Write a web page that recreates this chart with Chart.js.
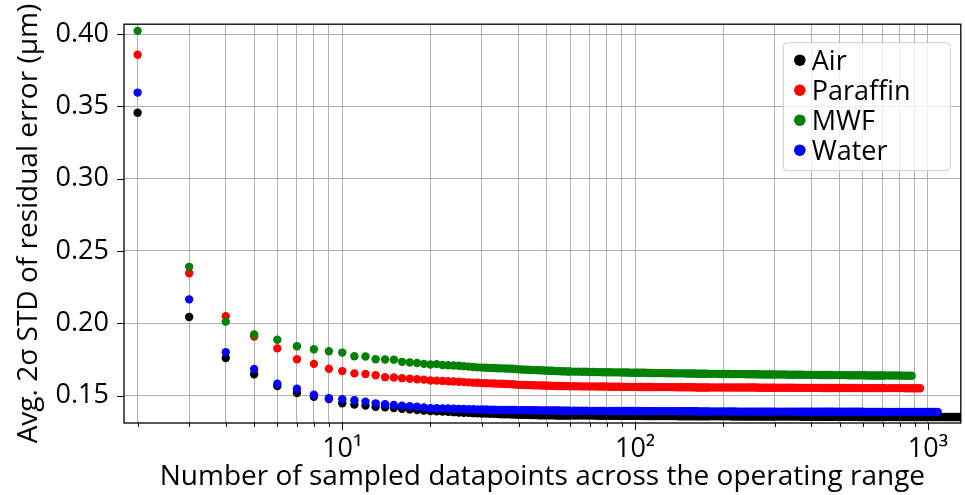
<!DOCTYPE html>
<html><head><meta charset="utf-8">
<script src="https://cdn.jsdelivr.net/npm/chart.js@4.4.0/dist/chart.umd.min.js"></script>
<style>html,body{margin:0;padding:0;background:#fff;overflow:hidden}canvas{display:block}</style>
</head><body>
<canvas id="c" width="965" height="495"></canvas>
<script>
// Number of sampled datapoints (x values where markers are read)
const sampleCounts = [
2,3,4,5,6,7,8,9,10,11,12,13,14,15,16,17,18,19,20,21,22,23,24,25,26,27,28,29,30,31,32,33,34,35,36,37,38,39,40,41,42,43,44,45,46,47,48,49,50,51,52,53,54,55,56,57,58,59,60,
62,64,66,68,70,72,74,76,78,80,82,84,86,88,90,92,94,96,98,100,102,104,106,108,110,112,114,116,118,120,
123,126,129,132,135,138,141,144,147,150,153,156,159,162,165,168,171,174,177,180,
185,190,195,200,205,210,215,220,225,230,235,240,245,250,255,260,265,270,275,280,285,290,295,300,
308,316,324,332,340,348,356,364,372,380,388,396,404,412,420,428,436,444,452,460,468,476,
488,500,512,524,536,548,560,572,584,596,608,620,632,644,656,668,680,692,704,716,
740,760,780,800,820,840,860,880,900,920,940,960,980,1000,1020,1040,1060,1080,1100,1120,1140,1160,1180,1200,1220,1240,1260,1280,1300
];

const airValues = [
0.3456,0.2043,0.1760,0.1647,0.1565,0.1517,0.1492,0.1476,0.1446,0.1437,0.1431,0.1422,0.1419,0.1413,
0.1408,0.1404,0.1400,0.1396,0.1393,0.1391,0.1389,0.1387,0.1385,0.1383,0.1381,0.1380,0.1378,0.1377,0.1376,
0.1375,0.1374,0.1373,0.1372,0.1371,0.1371,0.1370,0.1369,0.1368,0.1367,0.1367,0.1366,0.1366,0.1365,0.1365,
0.1365,0.1364,0.1364,0.1364,0.1363,0.1363,0.1363,0.1363,0.1362,0.1362,0.1362,0.1362,0.1362,0.1361,0.1361,
0.1361,0.1361,0.1361,0.1361,0.1361,0.1361,0.1360,0.1360,0.1360,0.1360,0.1360,0.1360,0.1360,0.1360,0.1359,0.1359,0.1359,0.1359,0.1359,0.1359,0.1359,0.1359,0.1358,0.1358,0.1358,0.1358,0.1358,0.1358,0.1358,0.1358,
0.1358,0.1358,0.1358,0.1358,0.1358,0.1358,0.1357,0.1357,0.1357,0.1357,0.1357,0.1357,0.1357,0.1357,0.1356,0.1356,0.1356,0.1356,0.1356,0.1356,
0.1356,0.1356,0.1356,0.1356,0.1356,0.1356,0.1355,0.1355,0.1355,0.1355,0.1355,0.1355,0.1355,0.1355,0.1355,0.1355,0.1354,0.1354,0.1354,0.1354,0.1354,0.1354,0.1354,0.1354,
0.1354,0.1354,0.1354,0.1354,0.1354,0.1354,0.1354,0.1354,0.1353,0.1353,0.1353,0.1353,0.1353,0.1353,0.1353,0.1353,0.1353,0.1353,0.1353,0.1353,0.1353,0.1353,
0.1353,0.1353,0.1353,0.1353,0.1353,0.1353,0.1353,0.1353,0.1352,0.1352,0.1352,0.1352,0.1352,0.1352,0.1352,0.1352,0.1352,0.1352,0.1352,0.1352,
0.1352,0.1352,0.1352,0.1352,0.1352,0.1352,0.1352,0.1352,0.1352,0.1352,0.1352,0.1352,0.1351,0.1351,0.1351,0.1351,0.1351,0.1351,0.1351,0.1351,0.1351,0.1351,0.1351,0.1351,0.1351,0.1351,0.1351,0.1351,0.1351
];

const paraffinValues = [
0.3857,0.2345,0.2049,0.1908,0.1826,0.1751,0.1719,0.1685,0.1669,0.1653,0.1649,0.1640,0.1627,0.1625,
0.1620,0.1616,0.1613,0.1610,0.1604,0.1603,0.1601,0.1599,0.1597,0.1595,0.1593,0.1591,0.1589,0.1588,0.1586,
0.1585,0.1584,0.1583,0.1582,0.1581,0.1580,0.1579,0.1578,0.1576,0.1574,0.1574,0.1573,0.1572,0.1572,0.1571,
0.1570,0.1570,0.1569,0.1569,0.1568,0.1568,0.1567,0.1567,0.1566,0.1566,0.1566,0.1565,0.1565,0.1565,0.1564,
0.1564,0.1564,0.1563,0.1563,0.1563,0.1563,0.1562,0.1562,0.1562,0.1562,0.1561,0.1561,0.1561,0.1561,0.1561,0.1560,0.1560,0.1560,0.1560,0.1560,0.1560,0.1559,0.1559,0.1559,0.1559,0.1559,0.1559,0.1558,0.1558,0.1558,
0.1558,0.1558,0.1558,0.1558,0.1558,0.1557,0.1557,0.1557,0.1557,0.1557,0.1557,0.1557,0.1557,0.1556,0.1556,0.1556,0.1556,0.1556,0.1556,0.1556,
0.1556,0.1556,0.1556,0.1556,0.1556,0.1556,0.1555,0.1555,0.1555,0.1555,0.1555,0.1555,0.1555,0.1555,0.1555,0.1555,0.1554,0.1554,0.1554,0.1554,0.1554,0.1554,0.1554,0.1554,
0.1554,0.1554,0.1554,0.1554,0.1554,0.1554,0.1553,0.1553,0.1553,0.1553,0.1553,0.1553,0.1553,0.1553,0.1553,0.1553,0.1552,0.1552,0.1552,0.1552,0.1552,0.1552,
0.1552,0.1552,0.1552,0.1552,0.1552,0.1552,0.1552,0.1552,0.1551,0.1551,0.1551,0.1551,0.1551,0.1551,0.1551,0.1551,0.1551,0.1551,0.1551,0.1551,
0.1551,0.1551,0.1551,0.1551,0.1551,0.1550,0.1550,0.1550,0.1550,0.1550,0.1550
];

const mwfValues = [
0.4022,0.2390,0.2011,0.1922,0.1886,0.1841,0.1820,0.1806,0.1797,0.1772,0.1770,0.1751,0.1749,0.1748,
0.1733,0.1729,0.1725,0.1719,0.1715,0.1717,0.1711,0.1709,0.1708,0.1706,0.1703,0.1700,0.1697,0.1695,0.1693,
0.1692,0.1691,0.1690,0.1689,0.1688,0.1687,0.1686,0.1685,0.1683,0.1681,0.1680,0.1679,0.1678,0.1677,0.1676,
0.1676,0.1675,0.1674,0.1673,0.1672,0.1671,0.1671,0.1670,0.1669,0.1669,0.1668,0.1667,0.1667,0.1666,0.1666,
0.1665,0.1665,0.1664,0.1664,0.1663,0.1663,0.1662,0.1662,0.1661,0.1661,0.1661,0.1660,0.1660,0.1660,0.1659,0.1659,0.1659,0.1658,0.1658,0.1658,0.1657,0.1657,0.1657,0.1657,0.1656,0.1656,0.1656,0.1656,0.1655,0.1655,
0.1655,0.1655,0.1654,0.1654,0.1654,0.1653,0.1653,0.1653,0.1653,0.1652,0.1652,0.1652,0.1652,0.1651,0.1651,0.1651,0.1651,0.1651,0.1650,0.1650,
0.1650,0.1650,0.1649,0.1649,0.1649,0.1649,0.1648,0.1648,0.1648,0.1648,0.1648,0.1647,0.1647,0.1647,0.1647,0.1647,0.1646,0.1646,0.1646,0.1646,0.1646,0.1646,0.1645,0.1645,
0.1645,0.1645,0.1645,0.1644,0.1644,0.1644,0.1644,0.1644,0.1644,0.1643,0.1643,0.1643,0.1643,0.1643,0.1643,0.1642,0.1642,0.1642,0.1642,0.1642,0.1642,0.1641,
0.1641,0.1641,0.1641,0.1641,0.1640,0.1640,0.1640,0.1640,0.1640,0.1640,0.1640,0.1639,0.1639,0.1639,0.1639,0.1639,0.1639,0.1639,0.1638,0.1638,
0.1638,0.1638,0.1638,0.1638,0.1637,0.1637,0.1637,0.1637
];

const waterValues = [
0.3595,0.2165,0.1799,0.1683,0.1581,0.1547,0.1506,0.1481,0.1474,0.1467,0.1458,0.1446,0.1440,0.1434,
0.1430,0.1426,0.1422,0.1417,0.1413,0.1412,0.1411,0.1410,0.1409,0.1408,0.1407,0.1406,0.1405,0.1404,0.1403,
0.1403,0.1402,0.1402,0.1401,0.1401,0.1401,0.1400,0.1400,0.1400,0.1399,0.1399,0.1399,0.1398,0.1398,0.1398,
0.1398,0.1397,0.1397,0.1397,0.1397,0.1396,0.1396,0.1396,0.1396,0.1396,0.1395,0.1395,0.1395,0.1395,0.1395,
0.1395,0.1395,0.1395,0.1395,0.1394,0.1394,0.1394,0.1394,0.1394,0.1394,0.1394,0.1394,0.1393,0.1393,0.1393,0.1393,0.1393,0.1393,0.1393,0.1393,0.1393,0.1393,0.1392,0.1392,0.1392,0.1392,0.1392,0.1392,0.1392,0.1392,
0.1392,0.1392,0.1392,0.1392,0.1392,0.1392,0.1391,0.1391,0.1391,0.1391,0.1391,0.1391,0.1391,0.1391,0.1390,0.1390,0.1390,0.1390,0.1390,0.1390,
0.1390,0.1390,0.1390,0.1390,0.1390,0.1390,0.1390,0.1390,0.1389,0.1389,0.1389,0.1389,0.1389,0.1389,0.1389,0.1389,0.1389,0.1389,0.1389,0.1389,0.1389,0.1389,0.1389,0.1389,
0.1389,0.1389,0.1389,0.1389,0.1389,0.1389,0.1388,0.1388,0.1388,0.1388,0.1388,0.1388,0.1388,0.1388,0.1388,0.1388,0.1388,0.1388,0.1388,0.1388,0.1388,0.1388,
0.1388,0.1388,0.1388,0.1388,0.1388,0.1388,0.1388,0.1388,0.1388,0.1388,0.1387,0.1387,0.1387,0.1387,0.1387,0.1387,0.1387,0.1387,0.1387,0.1387,
0.1387,0.1387,0.1387,0.1387,0.1387,0.1387,0.1387,0.1387,0.1387,0.1387,0.1387,0.1387,0.1387,0.1387,0.1387,0.1387,0.1387,0.1387
];

const seriesLabels = ['Air', 'Paraffin', 'MWF', 'Water'];
const seriesValues = [airValues, paraffinValues, mwfValues, waterValues];
const seriesColors = ['#000000', '#ff0000', '#008000', '#0000ff'];

const xTickValues = [2,3,4,5,6,7,8,9,10,20,30,40,50,60,70,80,90,100,200,300,400,500,600,700,800,900,1000];
const xTickLabels = {10: '10\u00b9', 100: '10\u00b2', 1000: '10\u00b3'};
const yTickValues = [0.15, 0.20, 0.25, 0.30, 0.35, 0.40];

const FONT = "'Open Sans', sans-serif";
Chart.defaults.font.family = FONT;
Chart.defaults.color = '#000';

const datasets = seriesLabels.map((label, i) => ({
  label,
  data: seriesValues[i].map((v, j) => ({x: sampleCounts[j], y: v})),
  backgroundColor: seriesColors[i],
  borderColor: seriesColors[i],
  pointRadius: 4.2,
  pointHoverRadius: 4.2,
  pointBorderWidth: 0,
  showLine: false,
  order: seriesLabels.length - i,
  clip: 0
}));

const decorPlugin = {
  id: 'decor',
  afterDraw(chart) {
    const {ctx, chartArea: a, scales: {x, y}} = chart;
    ctx.save();
    // tick marks
    ctx.strokeStyle = '#000';
    ctx.lineWidth = 1;
    ctx.beginPath();
    xTickValues.forEach(v => {
      const px = Math.round(x.getPixelForValue(v)) + 0.5;
      const len = xTickLabels[v] ? 7 : 4;
      ctx.moveTo(px, a.bottom);
      ctx.lineTo(px, a.bottom + len);
    });
    yTickValues.forEach(v => {
      const py = Math.round(y.getPixelForValue(v)) + 0.5;
      ctx.moveTo(a.left - 7, py);
      ctx.lineTo(a.left, py);
    });
    ctx.stroke();
    // frame
    ctx.lineWidth = 1.3;
    ctx.strokeRect(a.left, a.top, a.right - a.left, a.bottom - a.top);
    // legend
    const lx = a.right - 178, ly = a.top + 18, lw = 167, lh = 128;
    ctx.beginPath();
    ctx.roundRect(lx + 0.5, ly + 0.5, lw, lh, 4);
    ctx.fillStyle = 'rgba(255,255,255,0.8)';
    ctx.fill();
    ctx.strokeStyle = '#cccccc';
    ctx.lineWidth = 1;
    ctx.stroke();
    ctx.font = "27px " + FONT;
    ctx.textAlign = 'left';
    ctx.textBaseline = 'alphabetic';
    chart.data.datasets.forEach((ds, i) => {
      const cy = ly + 18 + i * 30;
      ctx.fillStyle = ds.backgroundColor;
      ctx.beginPath();
      ctx.arc(lx + 17, cy, 5.8, 0, Math.PI * 2);
      ctx.fill();
      ctx.fillStyle = '#000';
      ctx.fillText(ds.label, lx + 29, cy + 9.6);
    });
    ctx.restore();
  }
};

new Chart(document.getElementById('c'), {
  type: 'scatter',
  data: {datasets},
  options: {
    responsive: false,
    animation: false,
    devicePixelRatio: 1,
    layout: {padding: {left: 0, top: 19, right: 2, bottom: 0}},
    plugins: {legend: {display: false}, tooltip: {enabled: false}},
    scales: {
      x: {
        type: 'logarithmic',
        min: 1.797,
        max: 1295,
        afterFit: s => { s.height = 72; },
        afterBuildTicks: s => { s.ticks = xTickValues.map(v => ({value: v})); },
        border: {display: false},
        grid: {color: '#b0b0b0', lineWidth: 1, drawTicks: true, tickLength: 7, tickColor: 'rgba(0,0,0,0)'},
        ticks: {
          autoSkip: false, maxRotation: 0, minRotation: 0, padding: 3,
          font: {size: 27}, color: '#000',
          callback: v => xTickLabels[v] || ''
        },
        title: {display: true, text: 'Number of sampled datapoints across the operating range',
          font: {size: 28}, color: '#000', padding: {top: 0, bottom: 1}}
      },
      y: {
        type: 'linear',
        min: 0.1310,
        max: 0.4068,
        afterFit: s => { s.width = 124; },
        afterBuildTicks: s => { s.ticks = yTickValues.map(v => ({value: v})); },
        border: {display: false},
        grid: {color: '#b0b0b0', lineWidth: 1, drawTicks: true, tickLength: 7, tickColor: 'rgba(0,0,0,0)'},
        ticks: {padding: 8, font: {size: 27}, color: '#000', callback: v => Number(v).toFixed(2)},
        title: {display: true, text: 'Avg. 2\u03c3 STD of residual error (\u03bcm)',
          font: {size: 28}, color: '#000', padding: {top: 12, bottom: 0}}
      }
    }
  },
  plugins: [decorPlugin]
});
</script>
</body></html>
